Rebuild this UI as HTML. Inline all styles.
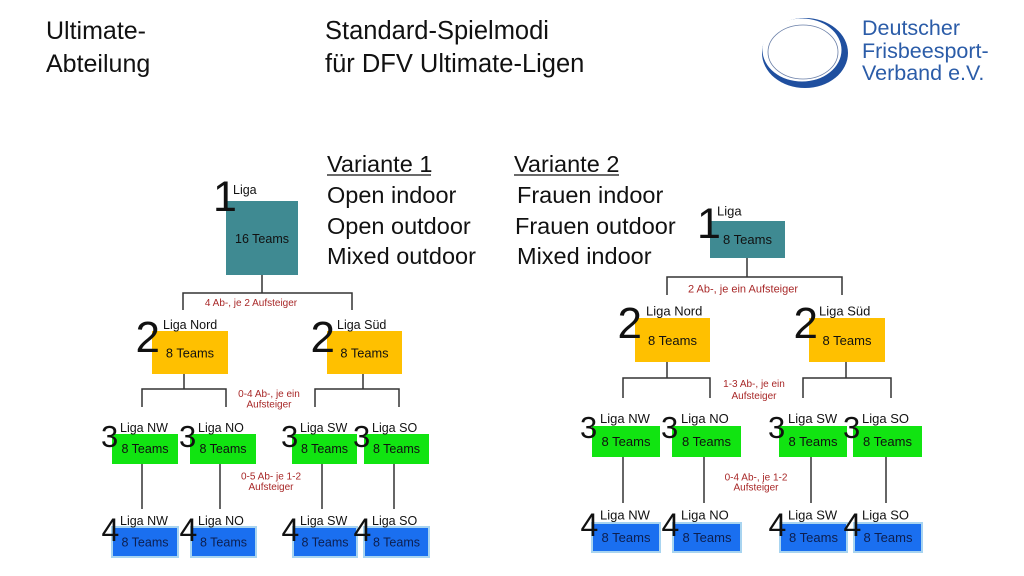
<!DOCTYPE html>
<html><head><meta charset="utf-8"><style>
html,body{margin:0;padding:0;background:#fff;}
svg{display:block;}
text{font-family:"Liberation Sans",Arial,sans-serif;}
.t{font-family:"Liberation Sans",Arial,sans-serif;fill:#111;}
.sm{font-size:12.5px;fill:#111;}
.sm2{font-size:13px;fill:#111;}
.bt{font-size:12.5px;fill:#0d1f4f;}
.bt2{font-size:13px;fill:#0d1f4f;}
.red{font-size:10px;fill:#a82828;}
.red2{font-size:11px;fill:#a82828;}
.ln{stroke:#333;stroke-width:1.5;fill:none;}
</style></head><body>
<svg width="1024" height="576" viewBox="0 0 1024 576" xmlns="http://www.w3.org/2000/svg">
<rect width="1024" height="576" fill="#fff"/>
<!-- Titles -->
<text x="46" y="39" font-size="25" class="t">Ultimate-</text>
<text x="46" y="72" font-size="25" class="t">Abteilung</text>
<text x="325" y="39" font-size="25.5" class="t">Standard-Spielmodi</text>
<text x="325" y="72" font-size="25.5" class="t">für DFV Ultimate-Ligen</text>
<!-- Logo -->
<ellipse cx="805" cy="53" rx="43" ry="35" fill="#1f4f9f"/>
<ellipse cx="802" cy="50" rx="39.5" ry="31.5" fill="#fff"/>
<ellipse cx="803" cy="52" rx="35" ry="27" fill="none" stroke="#6a7fa8" stroke-width="0.8"/>
<text x="862" y="35" font-size="21.5" fill="#2b5ca8">Deutscher</text>
<text x="862" y="58" font-size="21.5" fill="#2b5ca8">Frisbeesport-</text>
<text x="862" y="80" font-size="21.5" fill="#2b5ca8">Verband e.V.</text>
<!-- Variante -->
<text x="327" y="172" font-size="23.5" class="t">Variante 1</text>
<line x1="327" y1="175" x2="431" y2="175" stroke="#111" stroke-width="1.3"/>
<text x="327" y="203" font-size="23.5" class="t">Open indoor</text>
<text x="327" y="234" font-size="23.5" class="t">Open outdoor</text>
<text x="327" y="264" font-size="23.5" class="t">Mixed outdoor</text>
<text x="514" y="172" font-size="23.5" class="t">Variante 2</text>
<line x1="514" y1="175" x2="619" y2="175" stroke="#111" stroke-width="1.3"/>
<text x="517" y="203" font-size="23.5" class="t">Frauen indoor</text>
<text x="515" y="234" font-size="23.5" class="t">Frauen outdoor</text>
<text x="517" y="264" font-size="23.5" class="t">Mixed indoor</text>

<!-- ===== LEFT TREE ===== -->
<path class="ln" d="M262 275V293M183 310V293H352V310"/>
<path class="ln" d="M184 374V389M142 407V389H226V407M363 374V389M315 407V389H399V407"/>
<path class="ln" d="M142 464V509M220 464V509M322 464V509M394 464V509"/>
<rect x="226" y="201" width="72" height="74" fill="#3f8a92"/>
<text x="213" y="211" font-size="43" class="t">1</text>
<text x="233" y="194" class="sm">Liga</text>
<text x="262" y="243" class="sm" text-anchor="middle">16 Teams</text>
<text x="251" y="306" class="red" text-anchor="middle">4 Ab-, je 2 Aufsteiger</text>

<rect x="152" y="331" width="76" height="43" fill="#ffc000"/>
<rect x="327" y="331" width="75" height="43" fill="#ffc000"/>
<text x="135.5" y="352" font-size="44" class="t">2</text>
<text x="310.5" y="352" font-size="44" class="t">2</text>
<text x="163" y="329" class="sm">Liga Nord</text>
<text x="337" y="329" class="sm">Liga Süd</text>
<text x="190" y="357.5" font-size="12.8" fill="#111" text-anchor="middle">8 Teams</text>
<text x="364.5" y="357.5" font-size="12.8" fill="#111" text-anchor="middle">8 Teams</text>
<text x="269" y="397" class="red" text-anchor="middle">0-4 Ab-, je ein</text>
<text x="269" y="407.5" class="red" text-anchor="middle">Aufsteiger</text>

<rect x="112" y="434" width="66" height="30" fill="#11e411"/>
<rect x="190" y="434" width="66" height="30" fill="#11e411"/>
<rect x="292" y="434" width="65" height="30" fill="#11e411"/>
<rect x="364" y="434" width="65" height="30" fill="#11e411"/>
<text x="101" y="447" font-size="31" class="t">3</text>
<text x="179" y="447" font-size="31" class="t">3</text>
<text x="281" y="447" font-size="31" class="t">3</text>
<text x="353" y="447" font-size="31" class="t">3</text>
<text x="120" y="432" class="sm">Liga NW</text>
<text x="198" y="432" class="sm">Liga NO</text>
<text x="300" y="432" class="sm">Liga SW</text>
<text x="372" y="432" class="sm">Liga SO</text>
<text x="145" y="453" class="sm" text-anchor="middle">8 Teams</text>
<text x="223" y="453" class="sm" text-anchor="middle">8 Teams</text>
<text x="324.5" y="453" class="sm" text-anchor="middle">8 Teams</text>
<text x="396.5" y="453" class="sm" text-anchor="middle">8 Teams</text>
<text x="271" y="479.5" class="red" text-anchor="middle">0-5 Ab- je 1-2</text>
<text x="271" y="490" class="red" text-anchor="middle">Aufsteiger</text>

<g fill="#1a6ff0" stroke="#a8d4f0" stroke-width="2">
<rect x="112" y="527" width="66" height="30"/>
<rect x="191" y="527" width="65" height="30"/>
<rect x="293" y="527" width="64" height="30"/>
<rect x="364" y="527" width="65" height="30"/>
</g>
<text x="101.5" y="541" font-size="32" class="t">4</text>
<text x="179.5" y="541" font-size="32" class="t">4</text>
<text x="281.5" y="541" font-size="32" class="t">4</text>
<text x="353.5" y="541" font-size="32" class="t">4</text>
<text x="120" y="525" class="sm">Liga NW</text>
<text x="198" y="525" class="sm">Liga NO</text>
<text x="300" y="525" class="sm">Liga SW</text>
<text x="372" y="525" class="sm">Liga SO</text>
<text x="145" y="546.5" class="bt" text-anchor="middle">8 Teams</text>
<text x="223.5" y="546.5" class="bt" text-anchor="middle">8 Teams</text>
<text x="325" y="546.5" class="bt" text-anchor="middle">8 Teams</text>
<text x="396.5" y="546.5" class="bt" text-anchor="middle">8 Teams</text>

<!-- ===== RIGHT TREE ===== -->
<path class="ln" d="M747 258V277M667 295V277H842V295"/>
<path class="ln" d="M667 362V378M623 398V378H710V398M846 362V378M803 398V378H891V398"/>
<path class="ln" d="M623 457V503M704 457V503M811 457V503M886 457V503"/>
<rect x="710" y="221" width="75" height="37" fill="#3f8a92"/>
<text x="697" y="238" font-size="43" class="t">1</text>
<text x="717" y="215.5" class="sm2">Liga</text>
<text x="747.5" y="244" class="sm2" text-anchor="middle">8 Teams</text>
<text x="743" y="292.5" class="red2" text-anchor="middle">2 Ab-, je ein Aufsteiger</text>

<rect x="635" y="318" width="75" height="44" fill="#ffc000"/>
<rect x="809" y="318" width="76" height="44" fill="#ffc000"/>
<text x="617.5" y="338" font-size="44" class="t">2</text>
<text x="793.5" y="338" font-size="44" class="t">2</text>
<text x="646" y="315.5" class="sm2">Liga Nord</text>
<text x="819" y="315.5" class="sm2">Liga Süd</text>
<text x="672.5" y="345" class="sm2" text-anchor="middle">8 Teams</text>
<text x="847" y="345" class="sm2" text-anchor="middle">8 Teams</text>
<text x="754" y="387" class="red" text-anchor="middle">1-3 Ab-, je ein</text>
<text x="754" y="399" class="red" text-anchor="middle">Aufsteiger</text>

<rect x="592" y="426" width="68" height="31" fill="#11e411"/>
<rect x="672" y="426" width="69" height="31" fill="#11e411"/>
<rect x="779" y="426" width="68" height="31" fill="#11e411"/>
<rect x="853" y="426" width="69" height="31" fill="#11e411"/>
<text x="580" y="438" font-size="31" class="t">3</text>
<text x="661" y="438" font-size="31" class="t">3</text>
<text x="768" y="438" font-size="31" class="t">3</text>
<text x="843" y="438" font-size="31" class="t">3</text>
<text x="600" y="423" class="sm2">Liga NW</text>
<text x="681" y="423" class="sm2">Liga NO</text>
<text x="788" y="423" class="sm2">Liga SW</text>
<text x="862" y="423" class="sm2">Liga SO</text>
<text x="626" y="446" class="sm2" text-anchor="middle">8 Teams</text>
<text x="706.5" y="446" class="sm2" text-anchor="middle">8 Teams</text>
<text x="813" y="446" class="sm2" text-anchor="middle">8 Teams</text>
<text x="887.5" y="446" class="sm2" text-anchor="middle">8 Teams</text>
<text x="756" y="480.5" class="red" text-anchor="middle">0-4 Ab-, je 1-2</text>
<text x="756" y="490.5" class="red" text-anchor="middle">Aufsteiger</text>

<g fill="#1a6ff0" stroke="#a8d4f0" stroke-width="2">
<rect x="592" y="523" width="68" height="29"/>
<rect x="673" y="523" width="68" height="29"/>
<rect x="780" y="523" width="67" height="29"/>
<rect x="854" y="523" width="68" height="29"/>
</g>
<text x="580.5" y="536" font-size="32" class="t">4</text>
<text x="661.5" y="536" font-size="32" class="t">4</text>
<text x="768.5" y="536" font-size="32" class="t">4</text>
<text x="843.5" y="536" font-size="32" class="t">4</text>
<text x="600" y="519.5" class="sm2">Liga NW</text>
<text x="681" y="519.5" class="sm2">Liga NO</text>
<text x="788" y="519.5" class="sm2">Liga SW</text>
<text x="862" y="519.5" class="sm2">Liga SO</text>
<text x="626" y="542" class="bt2" text-anchor="middle">8 Teams</text>
<text x="707" y="542" class="bt2" text-anchor="middle">8 Teams</text>
<text x="813.5" y="542" class="bt2" text-anchor="middle">8 Teams</text>
<text x="888" y="542" class="bt2" text-anchor="middle">8 Teams</text>
</svg>
</body></html>
